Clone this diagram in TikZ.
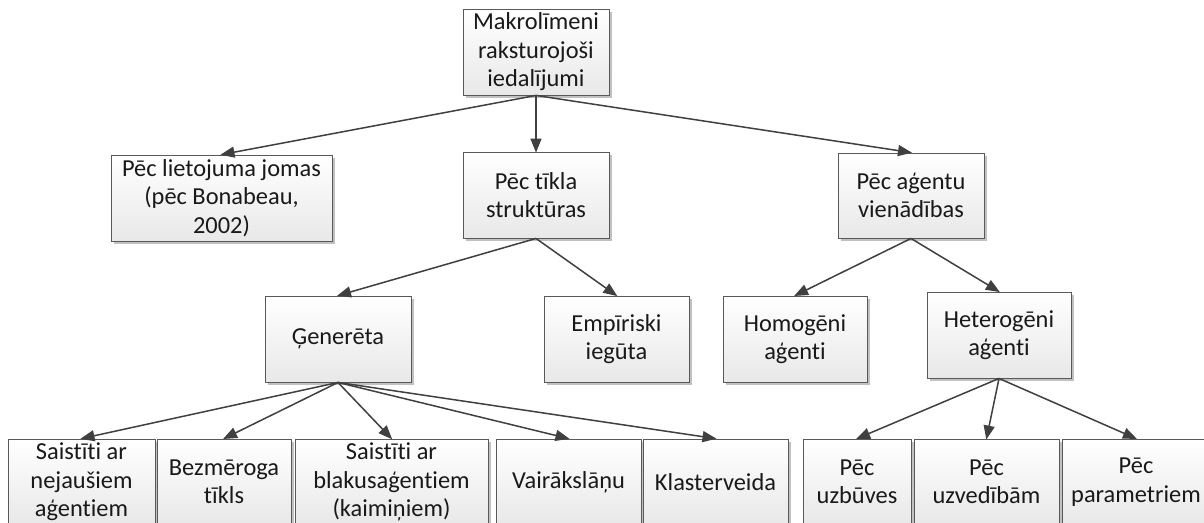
\documentclass[tikz,border=0pt]{standalone}
\usepackage{fontspec}
\setmainfont{Carlito}[RawFeature={-liga;-clig;-dlig}]
\usetikzlibrary{arrows.meta,shadows}
\begin{document}
\begin{tikzpicture}[x=1pt,y=-1pt,
  box/.style={draw=black!65, line width=0.9pt, top color=white, bottom color=black!9,
    drop shadow={shadow xshift=2.5pt, shadow yshift=-2.5pt, fill=black!30, opacity=0.8},
    inner sep=0pt, minimum height=86pt, align=center,
    font=\fontsize{24.4}{28.5}\selectfont, text=black!90},
  link/.style={draw=black!75, line width=1.5pt, -{Triangle[length=14pt,width=11pt]}, shorten >=-1pt}]
\clip (0,0) rectangle (1204,522);
\fill[white] (0,0) rectangle (1204,522);

% top level
\node[box, minimum width=146pt] (root) at (536,52) {Makrolīmeni\\raksturojoši\\iedalījumi};

% second level
\node[box, minimum width=221pt] (use) at (221.5,198) {Pēc lietojuma jomas\\(pēc Bonabeau,\\2002)};
\node[box, minimum width=146pt] (net) at (536,195) {Pēc tīkla\\struktūras};
\node[box, minimum width=146pt, minimum height=85pt] (agent) at (911,195.5) {Pēc aģentu\\vienādības};

% third level
\node[box, minimum width=146pt] (gen) at (338,339) {Ģenerēta};
\node[box, minimum width=145pt] (emp) at (616.5,339) {Empīriski\\iegūta};
\node[box, minimum width=144pt] (homo) at (795,339) {Homogēni\\aģenti};
\node[box, minimum width=144pt] (hetero) at (999,335) {Heterogēni\\aģenti};

% bottom level
\node[box, minimum width=147pt] (b1) at (81.5,482) {Saistīti ar\\nejaušiem\\aģentiem};
\node[box, minimum width=134pt] (b2) at (224,482) {Bezmēroga\\tīkls};
\node[box, minimum width=193pt] (b3) at (391.5,482) {Saistīti ar\\blakusaģentiem\\(kaimiņiem)};
\node[box, minimum width=145pt] (b4) at (568.5,482) {Vairākslāņu};
\node[box, minimum width=145pt] (b5) at (715.5,482) {Klasterveida};
\node[box, minimum width=108pt] (r1) at (857,482) {Pēc\\uzbūves};
\node[box, minimum width=145pt] (r2) at (986.5,482) {Pēc\\uzvedībām};
\node[box, minimum width=148pt] (r3) at (1136,482) {Pēc\\parametriem};

% connectors
\foreach \t in {use,net,agent} \draw[link] (root.south) -- (\t.north);
\foreach \t in {gen,emp} \draw[link] (net.south) -- (\t.north);
\foreach \t in {homo,hetero} \draw[link] (agent.south) -- (\t.north);
\foreach \t in {b1,b2,b3,b4,b5} \draw[link] (gen.south) -- (\t.north);
\foreach \t in {r1,r2,r3} \draw[link] (hetero.south) -- (\t.north);
\end{tikzpicture}
\end{document}
